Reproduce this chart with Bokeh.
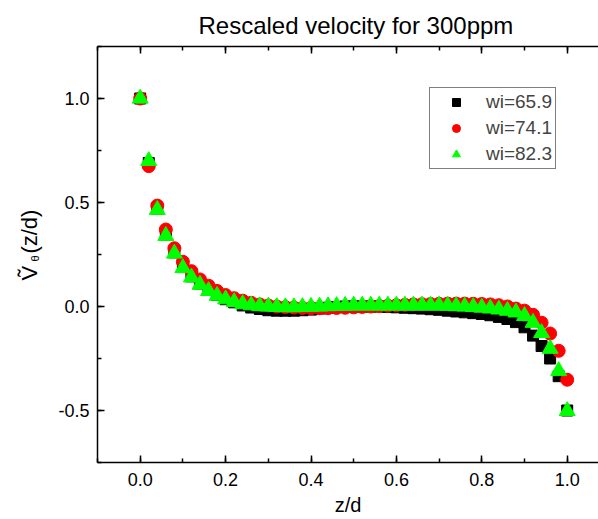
from bokeh.plotting import figure
from bokeh.models import (Range1d, LinearAxis, Title, Legend, LegendItem, SingleIntervalTicker,
                          PrintfTickFormatter, CustomJSTickFormatter)
from bokeh.embed import file_html
from bokeh.resources import INLINE

# ---- data ----
z = [0.00, 0.02, 0.04, 0.06, 0.08, 0.10, 0.12, 0.14, 0.16, 0.18,
     0.20, 0.22, 0.24, 0.26, 0.28, 0.30, 0.32, 0.34, 0.36, 0.38,
     0.40, 0.42, 0.44, 0.46, 0.48, 0.50, 0.52, 0.54, 0.56, 0.58,
     0.60, 0.62, 0.64, 0.66, 0.68, 0.70, 0.72, 0.74, 0.76, 0.78,
     0.80, 0.82, 0.84, 0.86, 0.88, 0.90, 0.92, 0.94, 0.96, 0.98, 1.00]

v_659 = [1.00, 0.69, 0.47, 0.345, 0.26, 0.195, 0.145, 0.11, 0.08, 0.055,
         0.035, 0.02, 0.005, -0.005, -0.012, -0.018, -0.02, -0.02, -0.02, -0.018,
         -0.015, -0.01, -0.006, -0.003, 0.0, 0.0, 0.0, 0.0, 0.0, -0.002,
         -0.004, -0.006, -0.008, -0.01, -0.013, -0.016, -0.02, -0.024, -0.028, -0.032,
         -0.036, -0.042, -0.05, -0.06, -0.075, -0.10, -0.14, -0.19, -0.25, -0.335, -0.50]

v_741 = [1.00, 0.675, 0.485, 0.37, 0.28, 0.215, 0.17, 0.13, 0.10, 0.075,
         0.055, 0.04, 0.028, 0.018, 0.01, 0.005, 0.0, -0.003, -0.005, -0.007,
         -0.008, -0.008, -0.008, -0.007, -0.006, -0.004, -0.002, 0.0, 0.002, 0.004,
         0.006, 0.008, 0.01, 0.011, 0.012, 0.013, 0.014, 0.014, 0.014, 0.013,
         0.012, 0.01, 0.006, 0.0, -0.01, -0.02, -0.04, -0.078, -0.13, -0.213, -0.352]

v_823 = [1.00, 0.70, 0.465, 0.34, 0.255, 0.185, 0.14, 0.105, 0.075, 0.052,
         0.035, 0.022, 0.012, 0.006, 0.002, 0.0, -0.002, -0.003, -0.003, -0.002,
         -0.001, 0.0, 0.002, 0.003, 0.004, 0.005, 0.005, 0.005, 0.005, 0.005,
         0.005, 0.005, 0.005, 0.005, 0.005, 0.005, 0.004, 0.002, 0.0, -0.002,
         -0.005, -0.009, -0.014, -0.02, -0.028, -0.045, -0.078, -0.127, -0.203, -0.31, -0.502]

labels = ["wi=65.9", "wi=74.1", "wi=82.3"]

FONT = "Liberation Sans"

p = figure(width=598, height=519, output_backend="svg", toolbar_location=None,
           x_range=Range1d(-0.1, 1.0733), y_range=Range1d(-0.75, 1.25),
           min_border_left=97, min_border_right=0, min_border_top=46, min_border_bottom=57)
p.outline_line_color = None
p.grid.visible = False
p.background_fill_color = "white"
p.border_fill_color = "white"

xt = SingleIntervalTicker(interval=0.2, num_minor_ticks=2)
yt = SingleIntervalTicker(interval=0.5, num_minor_ticks=2)

for ax in (p.xaxis[0], p.yaxis[0]):
    ax.axis_line_width = 1.5
    ax.axis_line_color = "black"
    ax.major_tick_in = 7
    ax.major_tick_out = 0
    ax.minor_tick_in = 4
    ax.minor_tick_out = 0
    ax.major_tick_line_width = 1.5
    ax.minor_tick_line_width = 1.5
    ax.major_label_text_font = FONT
    ax.major_label_text_font_size = "18px"
    ax.major_label_text_color = "black"
    ax.formatter = PrintfTickFormatter(format="%.1f")

p.xaxis[0].ticker = xt
p.yaxis[0].ticker = yt
p.xaxis[0].major_label_standoff = 10
p.yaxis[0].major_label_standoff = 8

top = LinearAxis(ticker=xt, axis_line_width=1.5, major_tick_in=7, major_tick_out=0,
                 minor_tick_in=4, minor_tick_out=0, major_tick_line_width=1.5,
                 minor_tick_line_width=1.5, major_label_standoff=0,
                 formatter=CustomJSTickFormatter(code="return ''"))
p.add_layout(top, "above")

r1 = p.scatter(z, v_659, marker="square", size=11, fill_color="black", line_color="black")
r2 = p.scatter(z, v_741, marker="circle", size=13, fill_color="#ff0000", line_color="#ff0000")
r3 = p.scatter(z, v_823, marker="triangle", size=16, fill_color="#00ff00", line_color="#00ff00")

legend = Legend(items=[LegendItem(label=labels[0], renderers=[r1]),
                       LegendItem(label=labels[1], renderers=[r2]),
                       LegendItem(label=labels[2], renderers=[r3])],
                location=(332, 293), padding=3, spacing=4, margin=0,
                glyph_width=46, glyph_height=20, label_height=20, label_standoff=7,
                label_text_font=FONT, label_text_font_size="19px",
                border_line_color="black", border_line_width=1,
                background_fill_color="white", background_fill_alpha=1)
p.add_layout(legend)

# title
p.add_layout(Title(text="Rescaled velocity for 300ppm", align="left", offset=101,
                   text_font=FONT, text_font_size="24px", text_font_style="normal",
                   text_color="black", standoff=16), "above")

# x label
p.add_layout(Title(text="z/d", align="center", vertical_align="bottom",
                   text_font=FONT, text_font_size="20px", text_font_style="normal",
                   text_color="black", standoff=6), "below")

# y label: main text, then subscript theta
ylab = Title(text="Ṽ\u00a0\u00a0(z/d)", align="left", offset=182, vertical_align="bottom",
             text_font=FONT, text_font_size="22px", text_font_style="normal",
             text_color="black", standoff=28)
p.add_layout(ylab, "left")
sub = Title(text="θ", align="left", offset=201, vertical_align="bottom",
            text_font=FONT, text_font_size="11px", text_font_style="normal",
            text_color="black", standoff=-80)
p.add_layout(sub, "left")

open("out.html", "w").write(file_html(p, INLINE))
